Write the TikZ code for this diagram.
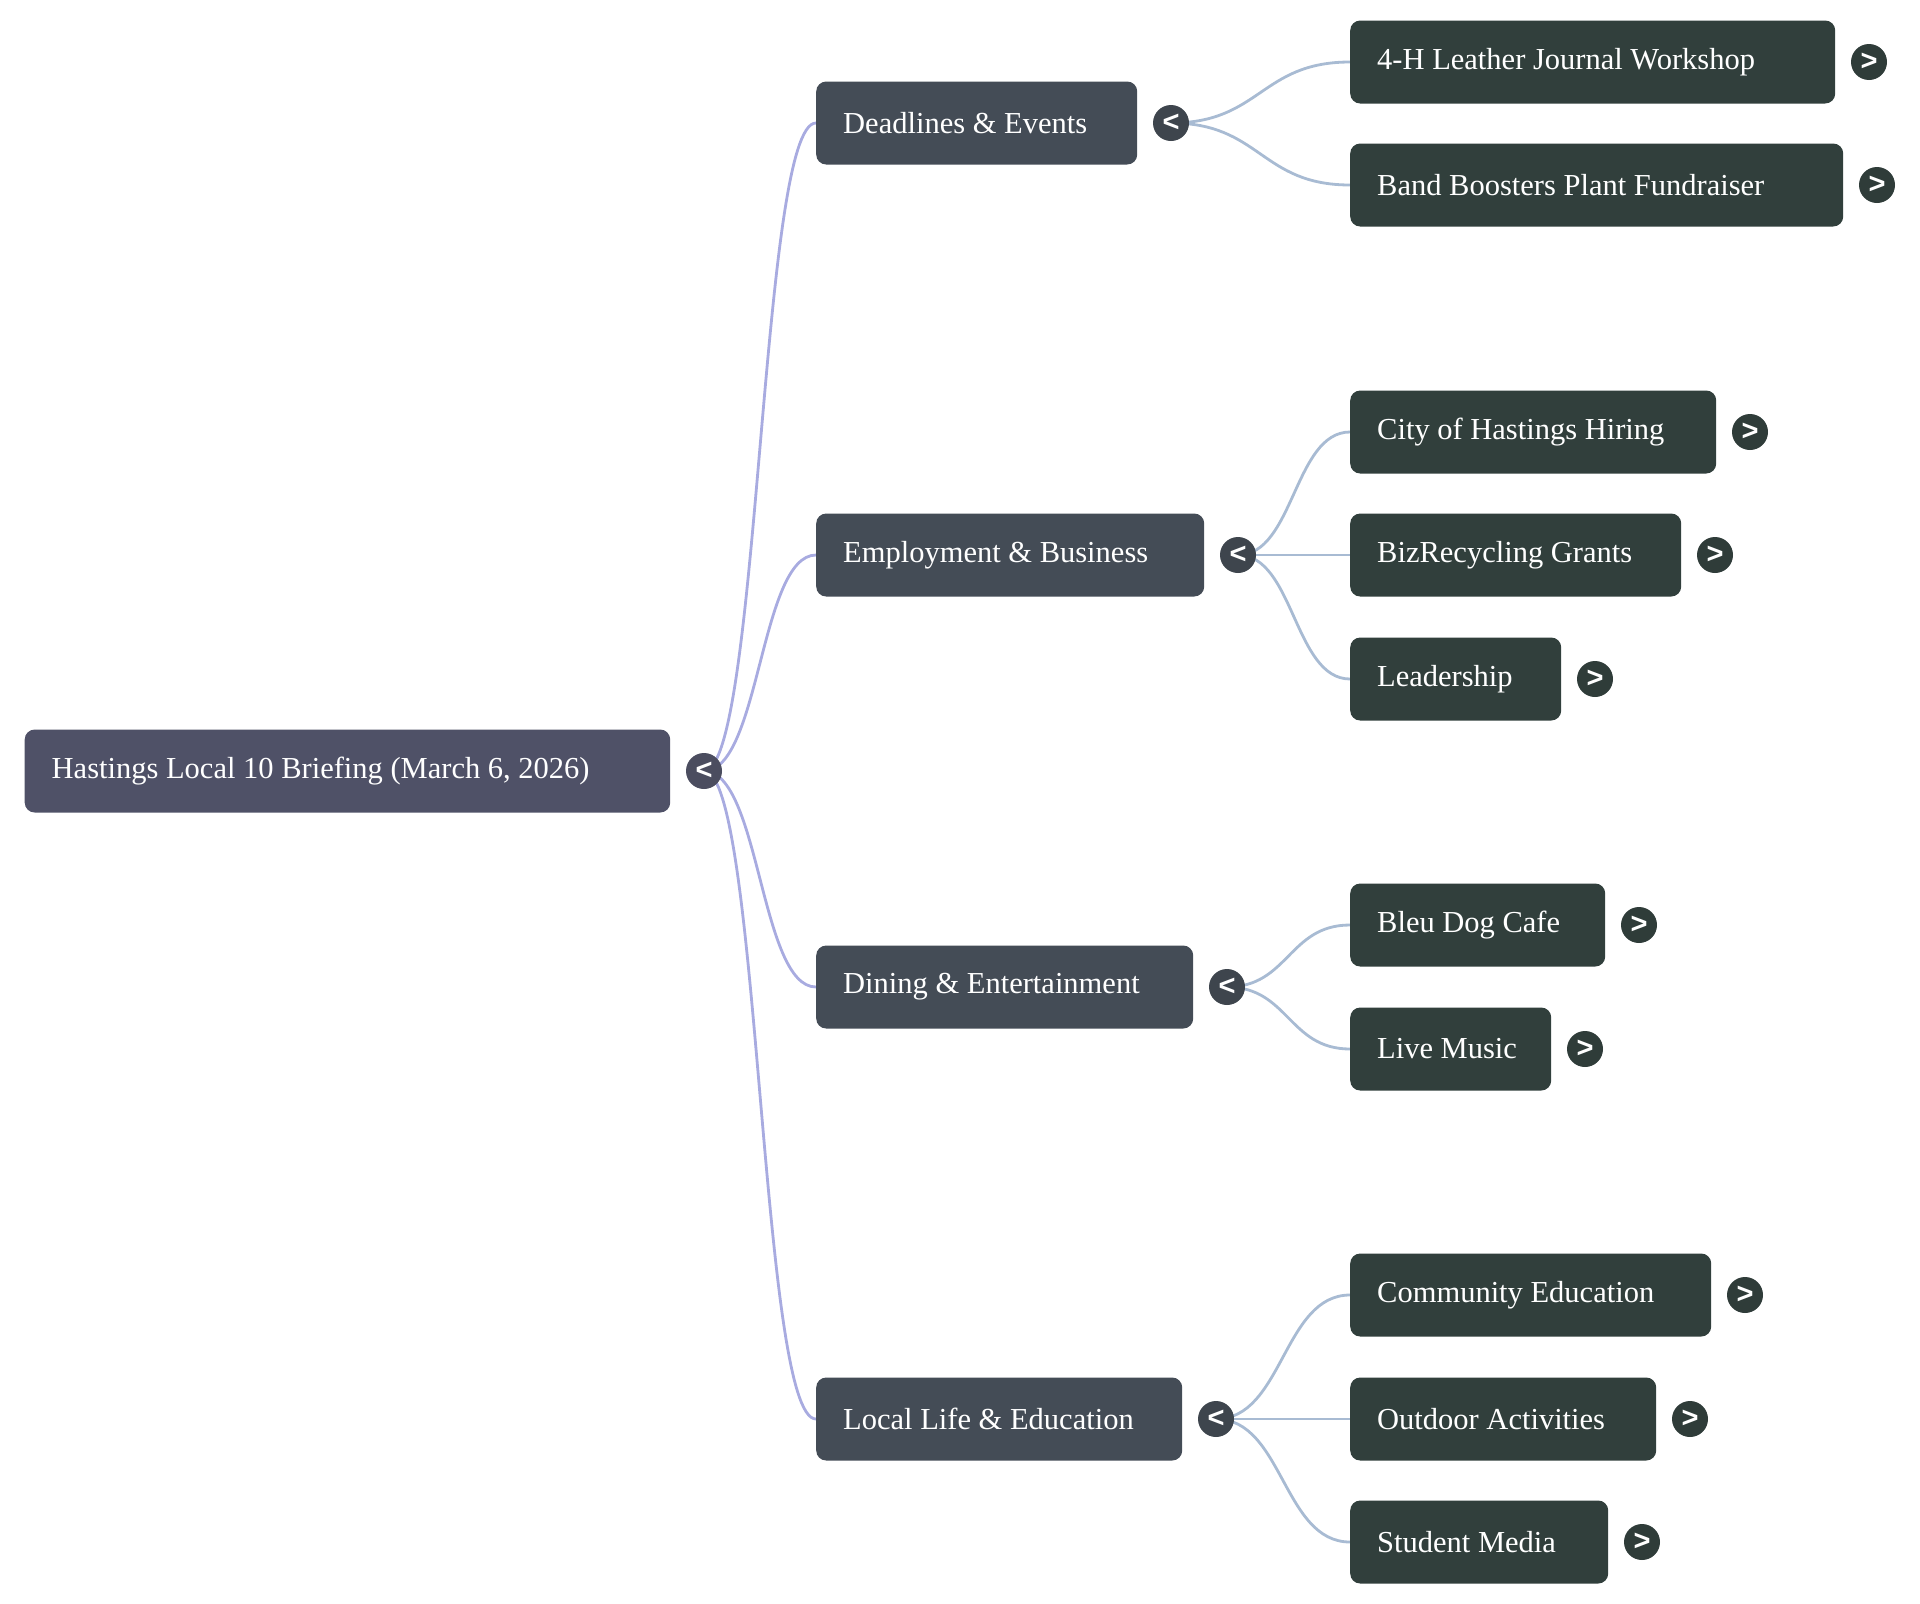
\documentclass[tikz,border=0pt]{standalone}
\usepackage{fontspec}
\setmainfont{Liberation Serif}
\newfontfamily\sansf{Liberation Sans}
\usetikzlibrary{calc}
\pgfdeclarelayer{background}
\pgfsetlayers{background,main}
\definecolor{rootfill}{HTML}{4F5167}
\definecolor{lonefill}{HTML}{444C56}
\definecolor{ltwofill}{HTML}{313F3C}
\definecolor{rootcirc}{HTML}{4B4D5F}
\definecolor{lonecirc}{HTML}{3E454D}
\definecolor{ltwocirc}{HTML}{2F3C39}
\definecolor{rootedge}{HTML}{A8ABE0}
\definecolor{ltwoedge}{HTML}{A8BBD3}
\tikzset{
  box/.style={rounded corners=10pt, anchor=west, minimum height=83pt,
    inner xsep=27pt, inner ysep=0pt, text=white,
    font=\fontsize{30.5}{36}\selectfont},
  rootbox/.style={box, fill=rootfill},
  lonebox/.style={box, fill=lonefill},
  ltwobox/.style={box, fill=ltwofill},
  circ/.style={circle, minimum size=36pt, inner sep=0pt, text=white,
    font=\sansf\bfseries\fontsize{29}{29}\selectfont},
  link/.style={line width=2.8pt, to path={let \p1=(\tikztostart), \p2=(\tikztotarget) in
    .. controls ({(\x1+\x2)/2},\y1) and ({(\x1+\x2)/2},\y2) .. (\tikztotarget)}},
  rlink/.style={link, draw=rootedge},
  slink/.style={link, draw=ltwoedge},
}
\newcommand{\bx}[2]{\makebox[#1pt][l]{#2}}
\begin{document}
\begin{tikzpicture}[x=1pt,y=-1pt]
\useasboundingbox (0,0) rectangle (1920,1604);
% root
\node[rootbox] (root) at (24.5,771) {\bx{591.5}{Hastings Local 10 Briefing (March 6, 2026)}};
\node[circ, fill=rootcirc] (rc) at (704,771) {<};
% level 1
\node[lonebox] (dl) at (816,123) {\bx{267}{Deadlines \& Events}};
\node[circ, fill=lonecirc] (dlc) at (1171,123) {<};
\node[lonebox] (em) at (816,555) {\bx{334}{Employment \& Business}};
\node[circ, fill=lonecirc] (emc) at (1238,555) {<};
\node[lonebox] (di) at (816,987) {\bx{323}{Dining \& Entertainment}};
\node[circ, fill=lonecirc] (dic) at (1227,987) {<};
\node[lonebox] (ll) at (816,1419) {\bx{312}{Local Life \& Education}};
\node[circ, fill=lonecirc] (llc) at (1216,1419) {<};
% level 2
\node[ltwobox] (a1) at (1350,62) {\bx{431}{4-H Leather Journal Workshop}};
\node[circ, fill=ltwocirc] (a1c) at (1869,62) {>};
\node[ltwobox] (a2) at (1350,185) {\bx{439}{Band Boosters Plant Fundraiser}};
\node[circ, fill=ltwocirc] (a2c) at (1877,185) {>};
\node[ltwobox] (b1) at (1350,432) {\bx{312}{City of Hastings Hiring}};
\node[circ, fill=ltwocirc] (b1c) at (1750,432) {>};
\node[ltwobox] (b2) at (1350,555) {\bx{277}{BizRecycling Grants}};
\node[circ, fill=ltwocirc] (b2c) at (1715,555) {>};
\node[ltwobox] (b3) at (1350,679) {\bx{157}{Leadership}};
\node[circ, fill=ltwocirc] (b3c) at (1595,679) {>};
\node[ltwobox] (c1) at (1350,925) {\bx{201}{Bleu Dog Cafe}};
\node[circ, fill=ltwocirc] (c1c) at (1639,925) {>};
\node[ltwobox] (c2) at (1350,1049) {\bx{147}{Live Music}};
\node[circ, fill=ltwocirc] (c2c) at (1585,1049) {>};
\node[ltwobox] (d1) at (1350,1295) {\bx{307}{Community Education}};
\node[circ, fill=ltwocirc] (d1c) at (1745,1295) {>};
\node[ltwobox] (d2) at (1350,1419) {\bx{252}{Outdoor Activities}};
\node[circ, fill=ltwocirc] (d2c) at (1690,1419) {>};
\node[ltwobox] (d3) at (1350,1542) {\bx{204}{Student Media}};
\node[circ, fill=ltwocirc] (d3c) at (1642,1542) {>};
\begin{pgfonlayer}{background}
\draw[rlink] (rc.center) to (dl.west);
\draw[rlink] (rc.center) to (em.west);
\draw[rlink] (rc.center) to (di.west);
\draw[rlink] (rc.center) to (ll.west);
\draw[slink] (dlc.center) to (a1.west);
\draw[slink] (dlc.center) to (a2.west);
\draw[slink] (emc.center) to (b1.west);
\draw[slink] (emc.center) to (b2.west);
\draw[slink] (emc.center) to (b3.west);
\draw[slink] (dic.center) to (c1.west);
\draw[slink] (dic.center) to (c2.west);
\draw[slink] (llc.center) to (d1.west);
\draw[slink] (llc.center) to (d2.west);
\draw[slink] (llc.center) to (d3.west);
\end{pgfonlayer}
\end{tikzpicture}
\end{document}
